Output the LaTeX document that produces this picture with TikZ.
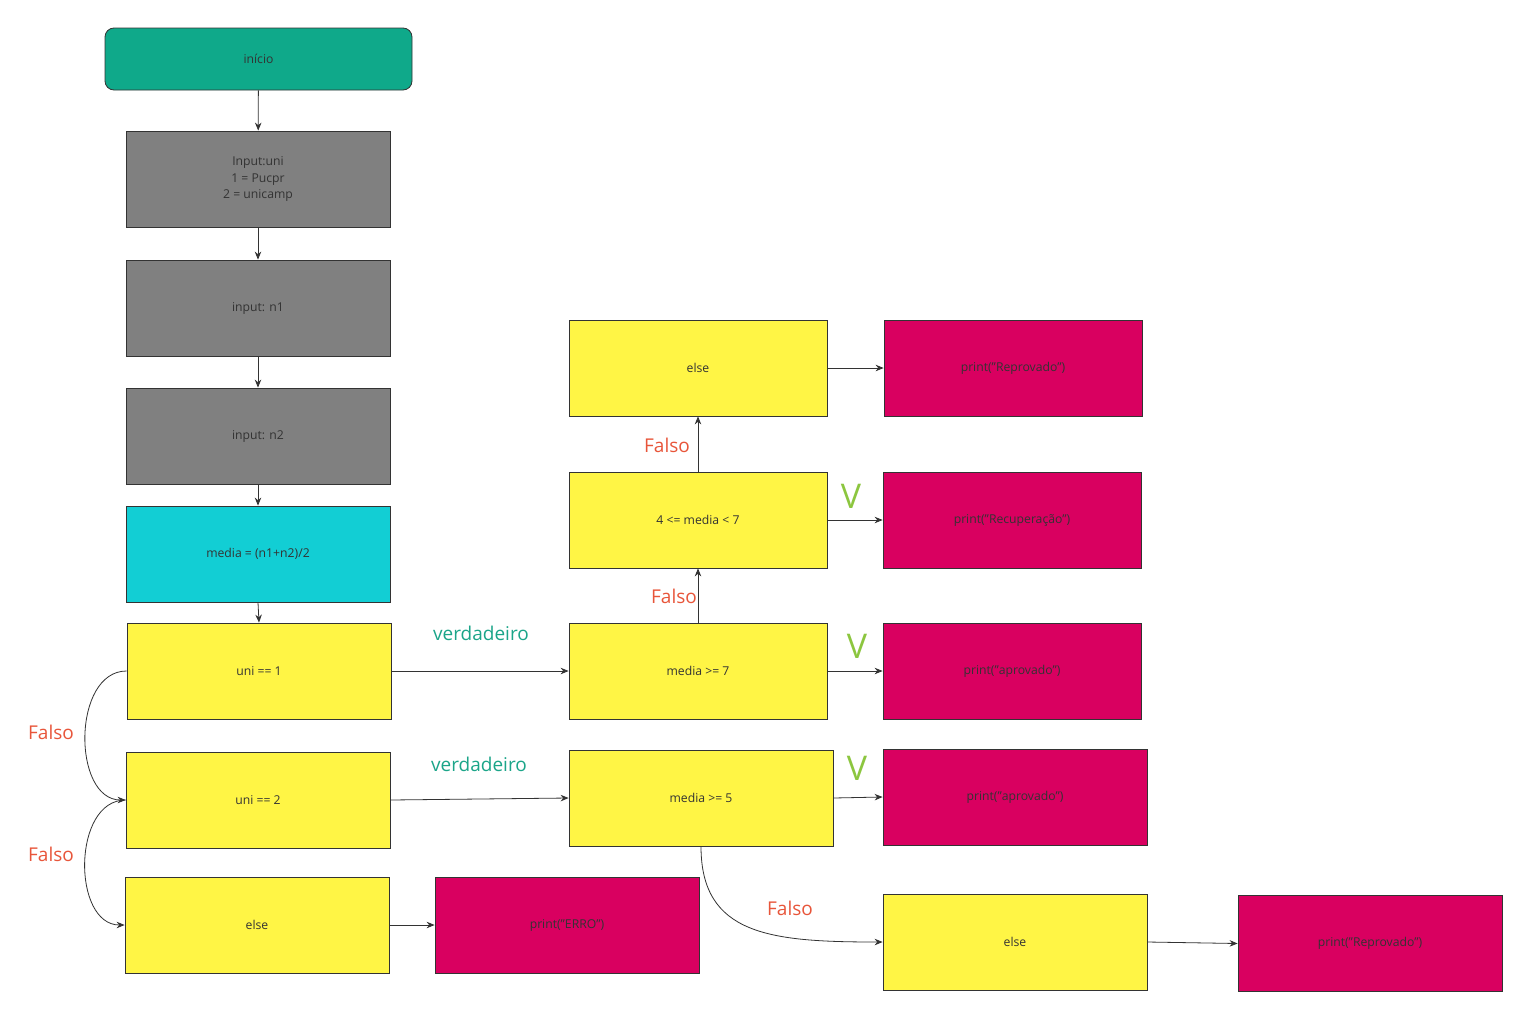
\documentclass[tikz,border=0pt]{standalone}
\usepackage{fontspec}
\setmainfont{Open Sans}
\usetikzlibrary{arrows.meta}
\definecolor{teal1}{HTML}{0FA98A}
\definecolor{gray1}{HTML}{808080}
\definecolor{cyan1}{HTML}{12CED4}
\definecolor{yel1}{HTML}{FFF545}
\definecolor{mag1}{HTML}{D90060}
\definecolor{edge1}{HTML}{333333}
\definecolor{falsoc}{HTML}{E8553A}
\definecolor{verdc}{HTML}{1BA589}
\definecolor{vc}{HTML}{8CC63F}
\tikzset{
  box/.style={draw=edge1, line width=0.8pt, inner sep=0pt, align=center,
    text=edge1, font=\fontsize{12.2}{16.5}\selectfont},
  stdbox/.style={box, minimum width=264pt, minimum height=96pt},
  narrowbox/.style={box, minimum width=258pt, minimum height=96pt},
  ybox/.style={fill=yel1},
  mbox/.style={fill=mag1},
  gbox/.style={fill=gray1},
  conn/.style={draw=edge1, line width=0.8pt, -{Stealth[length=8pt,width=6.5pt]}},
  falso/.style={text=falsoc, font=\fontsize{19}{22}\selectfont},
  verd/.style={text=verdc, font=\fontsize{19}{22}\selectfont},
  vlab/.style={text=vc, font=\fontsize{34}{38}\selectfont},
}
\begin{document}
\begin{tikzpicture}[x=1pt, y=-1pt]
\useasboundingbox[fill=white] (0,0) rectangle (1530,1020);
% left column
\node[box, fill=teal1, rounded corners=9pt, minimum width=307pt, minimum height=62pt] (ini) at (258.5,59) {início};
\node[stdbox, gbox] (inuni) at (258,179) {Input:uni\\1 = Pucpr\\2 = unicamp};
\node[stdbox, gbox] (n1) at (258,308) {input: n1};
\node[stdbox, gbox] (n2) at (258,436) {input: n2};
\node[stdbox, fill=cyan1] (med) at (258,554) {media = (n1+n2)/2};
\node[stdbox, ybox] (u1) at (259,671) {uni == 1};
\node[stdbox, ybox] (u2) at (258,800) {uni == 2};
\node[stdbox, ybox] (el1) at (257,925) {else};
\node[stdbox, mbox] (erro) at (567,925) {print("ERRO")};
% middle column
\node[narrowbox, ybox] (m7) at (698,671) {media >= 7};
\node[narrowbox, ybox] (m47) at (698,520) {4 <= media < 7};
\node[narrowbox, ybox] (el2) at (698,368) {else};
\node[stdbox, ybox] (m5) at (701,798) {media >= 5};
% right column
\node[narrowbox, mbox] (rep1) at (1013,368) {print("Reprovado")};
\node[narrowbox, mbox] (rec) at (1012,520) {print("Recuperação")};
\node[narrowbox, mbox] (ap1) at (1012,671) {print("aprovado")};
\node[stdbox, mbox] (ap2) at (1015,797) {print("aprovado")};
\node[stdbox, ybox] (el3) at (1015,942) {else};
\node[stdbox, mbox] (rep2) at (1370,943.5) {print("Reprovado")};
% connectors
\draw[conn] (ini) -- (inuni);
\draw[conn] (inuni) -- (n1);
\draw[conn] (n1) -- (n2);
\draw[conn] (n2) -- (med);
\draw[conn] (med.south) -- (u1.north);
\draw[conn] (u1.east) -- (m7.west);
\draw[conn] (u2.east) -- (m5.west);
\draw[conn] (el1.east) -- (erro.west);
\draw[conn] (u1.west) .. controls (72,671) and (72,800) .. (u2.west);
\draw[conn] (u2.west) .. controls (72,800) and (72,925) .. (el1.west);
\draw[conn] (m7.north) -- (m47.south);
\draw[conn] (m47.north) -- (el2.south);
\draw[conn] (el2.east) -- (rep1.west);
\draw[conn] (m47.east) -- (rec.west);
\draw[conn] (m7.east) -- (ap1.west);
\draw[conn] (m5.east) -- (ap2.west);
\draw[conn] (m5.south) .. controls (701,935) and (770,942) .. (el3.west);
\draw[conn] (el3.east) -- (rep2.west);
% labels
\node[falso] (f1) at (51,732) {Falso};
\node[falso] (f2) at (51,854) {Falso};
\node[falso] (f3) at (667,445) {Falso};
\node[falso] (f4) at (674,596) {Falso};
\node[falso] (f5) at (790,908) {Falso};
\node[verd] (v1) at (481,633) {verdadeiro};
\node[verd] (v2) at (479,764) {verdadeiro};
\node[vlab] (t1) at (851,496) {V};
\node[vlab] (t2) at (857,646) {V};
\node[vlab] (t3) at (857,768) {V};
\end{tikzpicture}
\end{document}
